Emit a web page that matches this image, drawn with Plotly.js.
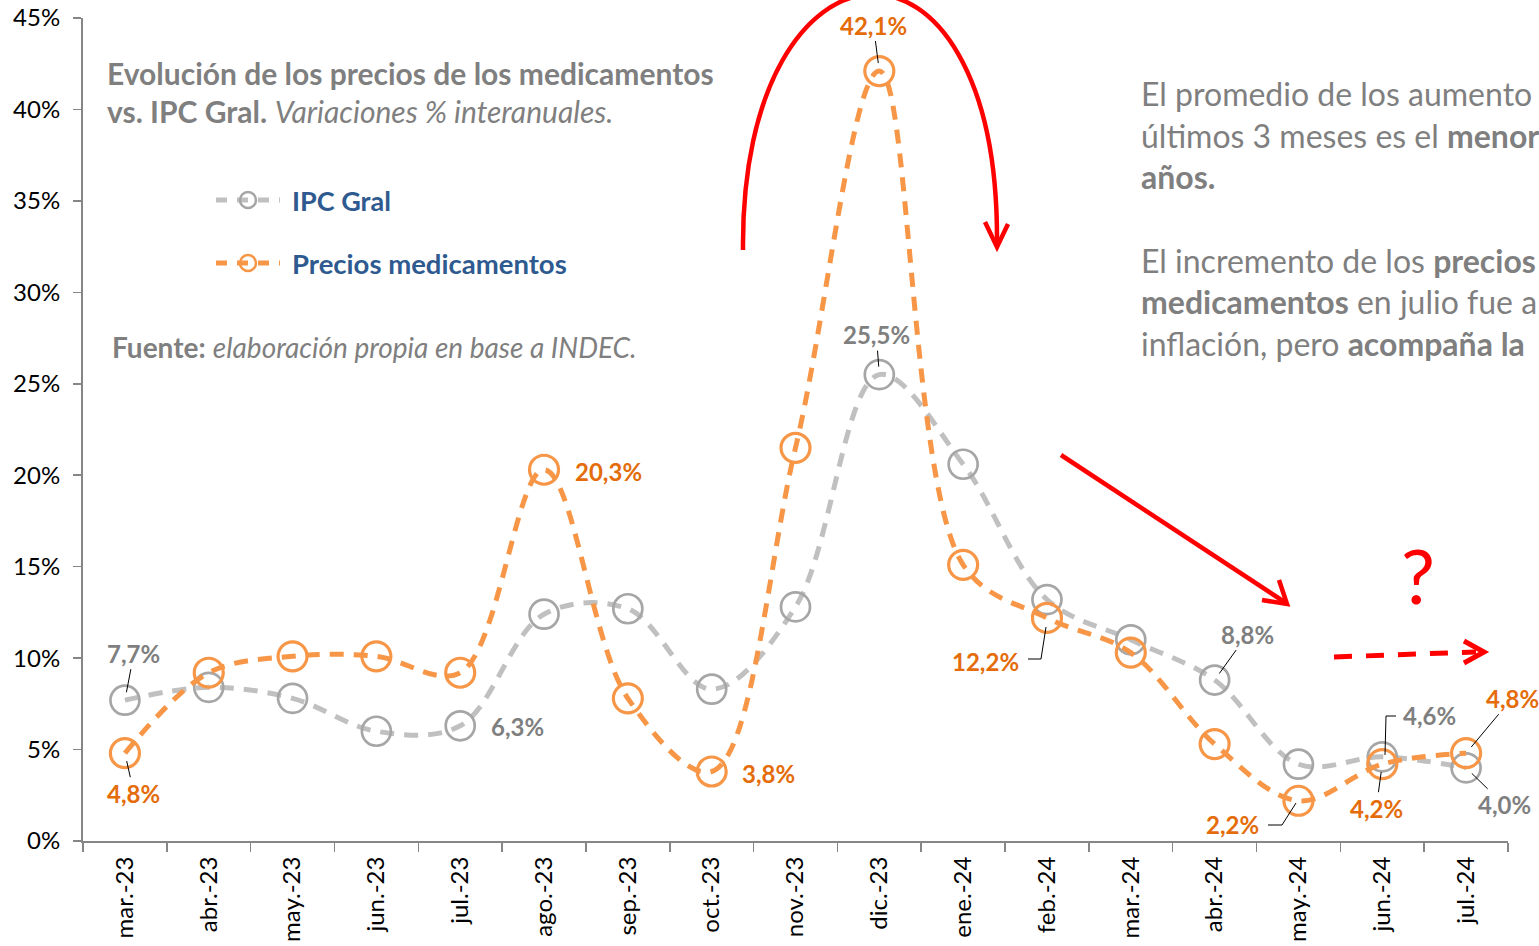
<!DOCTYPE html>
<html>
<head>
<meta charset="utf-8">
<script src="https://cdn.plot.ly/plotly-3.0.1.min.js"></script>
<style>html,body{margin:0;padding:0;background:#fff;overflow:hidden}#chart{width:1539px;height:946px}</style>
</head>
<body>
<div id="chart"></div>
<script>
// ---- Data ----
const months = ['mar.-23','abr.-23','may.-23','jun.-23','jul.-23','ago.-23','sep.-23','oct.-23','nov.-23','dic.-23','ene.-24','feb.-24','mar.-24','abr.-24','may.-24','jun.-24','jul.-24'];
const ipcGral = [7.7, 8.4, 7.8, 6.0, 6.3, 12.4, 12.7, 8.3, 12.8, 25.5, 20.6, 13.2, 11.0, 8.8, 4.2, 4.6, 4.0];
const preciosMed = [4.8, 9.2, 10.1, 10.1, 9.2, 20.3, 7.8, 3.8, 21.5, 42.1, 15.1, 12.2, 10.3, 5.3, 2.2, 4.2, 4.8];
const yTicks = [0, 5, 10, 15, 20, 25, 30, 35, 40, 45];
const seriesNames = ['IPC Gral', 'Precios medicamentos'];

// ---- Style ----
const FONT = 'Lato, Carlito, Calibri, "Open Sans", sans-serif';
const GRAY_LINE = '#c0c0c0', GRAY_MK = '#a6a6a6', GRAY_TXT = '#7f7f7f';
const ORANGE = '#f79646', ORANGE_TXT = '#e46c0a';
const RED = '#ff0000';
const W = 1539, H = 946;
const M = {l: 83, r: 31, t: 18, b: 105};
const px = x => (x - M.l) / (W - M.l - M.r);
const py = y => (H - M.b - y) / (H - M.t - M.b);
const fmt = v => v.toFixed(1).replace('.', ',') + '%';

const traces = [
  {x: months, y: ipcGral, name: seriesNames[0], type: 'scatter', mode: 'lines+markers',
   line: {color: GRAY_LINE, width: 5, dash: '14px,10px', shape: 'spline', smoothing: 1},
   marker: {symbol: 'circle-open', size: 29, color: GRAY_MK, line: {width: 2.7, color: GRAY_MK}},
   cliponaxis: false, showlegend: false, hoverinfo: 'skip'},
  {x: months, y: preciosMed, name: seriesNames[1], type: 'scatter', mode: 'lines+markers',
   line: {color: ORANGE, width: 5, dash: '14px,10px', shape: 'spline', smoothing: 1},
   marker: {symbol: 'circle-open', size: 29, color: ORANGE, line: {width: 3.2, color: ORANGE}},
   cliponaxis: false, showlegend: false, hoverinfo: 'skip'}
];

// data label config: [series, index, dx, dy, leader]
const labelCfg = [
  [0, 0, 9, -47, true], [1, 0, 9, 40, true], [0, 4, 57, 1, false], [1, 5, 64, 2, false],
  [1, 7, 57, 2, false], [1, 9, -6, -46, true], [0, 9, -3, -40, true], [1, 11, -61, 44, false],
  [0, 13, 33, -46, true], [1, 14, -66, 24, false], [0, 15, 47, -41, false], [1, 15, -6, 44, true],
  [1, 16, 46, -55, true], [0, 16, 38, 37, true]
];
const series = [ipcGral, preciosMed];
const annotations = [];
labelCfg.forEach(([s, i, dx, dy, lead]) => {
  const a = {x: months[i], y: series[s][i], xref: 'x', yref: 'y', text: '<b>' + fmt(series[s][i]) + '</b>',
    font: {family: FONT, size: 24, color: s === 0 ? GRAY_TXT : ORANGE_TXT}};
  if (lead) { Object.assign(a, {showarrow: true, ax: dx, ay: dy, arrowhead: 0, arrowwidth: 1, arrowcolor: '#000', standoff: 8}); }
  else { Object.assign(a, {showarrow: false, xshift: dx, yshift: -dy}); }
  annotations.push(a);
});

function txt(x, y, text, size, color, anchor) {
  return {xref: 'paper', yref: 'paper', x: px(x), y: py(y), xanchor: anchor || 'left', yanchor: 'middle',
    text: text, showarrow: false, font: {family: FONT, size: size, color: color}};
}
annotations.push(txt(105, 73, '<b>Evolución de los precios de los medicamentos</b>', 30, GRAY_TXT));
annotations.push(txt(105, 111, '<b>vs. IPC Gral.</b> <i>Variaciones % interanuales.</i>', 30, GRAY_TXT));
annotations.push(txt(290, 200, '<b>' + seriesNames[0] + '</b>', 27, '#2e5a8f'));
annotations.push(txt(290, 263, '<b>' + seriesNames[1] + '</b>', 27.5, '#2e5a8f'));
annotations.push(txt(110, 347, '<b>Fuente:</b> <i>elaboración propia en base a INDEC.</i>', 28, GRAY_TXT));
const rightLines = [
  [93, 'El promedio de los aumento'], [135, 'últimos 3 meses es el <b>menor</b>'], [176, '<b>años.</b>'],
  [260, 'El incremento de los <b>precios</b>'], [301, '<b>medicamentos</b> en julio fue a'], [343, 'inflación, pero <b>acompaña la</b>']
];
rightLines.forEach(([y, t]) => annotations.push(txt(1139, y, t, 32, GRAY_TXT)));
annotations.push(txt(1418, 574, '?', 76, RED, 'center'));

const shapes = [];
function path(pts, color, width, dash) {
  let d = '';
  pts.forEach((p, k) => { d += (k === 0 ? 'M' : (p.length === 6 ? 'C' : 'L'));
    for (let j = 0; j < p.length; j += 2) d += (j ? ' ' : '') + px(p[j]).toFixed(5) + ',' + py(p[j+1]).toFixed(5) + ' '; });
  shapes.push({type: 'path', xref: 'paper', yref: 'paper', path: d.trim(), line: {color: color, width: width, dash: dash || 'solid'}});
}
// big arc arrow
path([[743, 250], [740, -80, 1000, -100, 997, 245]], RED, 4.5);
path([[985, 222], [997, 247], [1008, 224]], RED, 4.5);
// diagonal arrow
path([[1061, 455], [1286, 603]], RED, 4.5);
path([[1262, 600], [1287, 604], [1279, 580]], RED, 4.5);
// dashed horizontal arrow
path([[1334, 657], [1476, 652]], RED, 5, '18px,14px');
path([[1464, 641], [1484, 652], [1464, 663]], RED, 5);
// elbow leaders
path([[1028, 659], [1041, 659], [1046, 627]], '#000', 1);
path([[1268, 825], [1282, 825], [1296, 803]], '#000', 1);
path([[1396, 716], [1386, 716], [1385, 755]], '#000', 1);
// legend symbols
[[200, GRAY_LINE, GRAY_MK], [263, ORANGE, ORANGE]].forEach(([y, lc, mc]) => {
  shapes.push({type: 'line', xref: 'paper', yref: 'paper', x0: px(216), x1: px(280), y0: py(y), y1: py(y), line: {color: lc, width: 5, dash: '11px,10px'}});
  shapes.push({type: 'circle', xref: 'paper', yref: 'paper', x0: px(240), x1: px(256), y0: py(y - 8), y1: py(y + 8), fillcolor: 'rgba(0,0,0,0)', line: {color: mc, width: 2.5}});
});

const layout = {
  width: W, height: H, margin: M, paper_bgcolor: '#fff', plot_bgcolor: '#fff', showlegend: false,
  font: {family: FONT, size: 24, color: '#000'},
  xaxis: {type: 'category', tickson: 'boundaries', ticks: 'outside', ticklen: 9, tickwidth: 1.5, tickcolor: '#868686',
    showline: true, linecolor: '#868686', linewidth: 2, showgrid: false, tickangle: -90, ticklabelstandoff: 4,
    tickfont: {family: FONT, size: 24, color: '#000'}, range: [-0.5, months.length - 0.5], fixedrange: true},
  yaxis: {range: [0, 45], tickvals: yTicks, ticktext: yTicks.map(v => v + '%'), ticks: 'outside', ticklen: 8, tickwidth: 1.5,
    tickcolor: '#868686', showline: true, linecolor: '#868686', linewidth: 2, showgrid: false, zeroline: false,
    ticklabelstandoff: 8, tickfont: {family: FONT, size: 24, color: '#000'}, fixedrange: true},
  annotations: annotations,
  shapes: shapes
};

Plotly.newPlot('chart', traces, layout, {staticPlot: true, displayModeBar: false});
</script>
</body>
</html>
